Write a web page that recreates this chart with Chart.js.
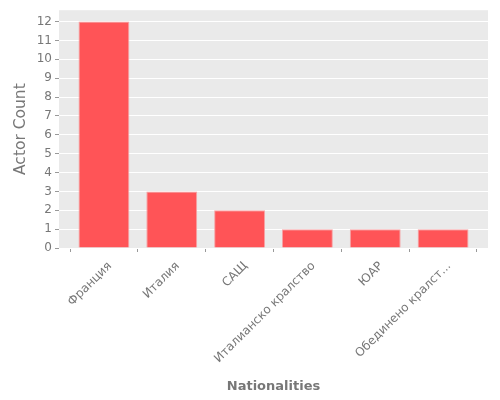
<!DOCTYPE html>
<html>
<head>
<meta charset="utf-8">
<script src="https://cdn.jsdelivr.net/npm/chart.js@4"></script>
<style>
  html, body { margin: 0; padding: 0; background: #fff; }
  #wrap { width: 500px; height: 400px; }
</style>
</head>
<body>
<div id="wrap"><canvas id="myChart"></canvas></div>
<script>
// data
const categories = [
    'Франция',
    'Италия',
    'САЩ',
    'Италианско кралство',
    'ЮАР',
    'Обединено кралст...'
];
const actorCounts = [12, 3, 2, 1, 1, 1];
const yTicks = [0, 1, 2, 3, 4, 5, 6, 7, 8, 9, 10, 11, 12];

const grey = '#777777';

// grey panel behind the plot, ggplot style
const panelBg = {
    id: 'panelBg',
    beforeDraw(chart) {
        const { ctx, chartArea: a } = chart;
        ctx.save();
        ctx.fillStyle = '#eaeaea';
        ctx.fillRect(a.left, a.top, a.right - a.left, a.bottom - a.top);
        ctx.restore();
    }
};

const config = {
    type: 'bar',
    data: {
        datasets: [{
            label: 'Actor Count',
            data: actorCounts.map((v, i) => ({ x: i, y: v })),
            backgroundColor: '#ff5457',
            borderColor: '#f7a3a5',
            borderWidth: 1,
            categoryPercentage: 1,
            barPercentage: 0.75
        }]
    },
    options: {
        responsive: true,
        maintainAspectRatio: false,
        animation: false,
        layout: { padding: { top: 10, right: 12, left: 12, bottom: 0 } },
        plugins: {
            legend: false,
            tooltip: { enabled: false }
        },
        scales: {
            x: {
                type: 'linear',
                offset: false,
                min: -0.6625,
                max: 5.6625,
                afterBuildTicks(scale) {
                    scale.ticks = categories.map((c, i) => ({ value: i }));
                },
                afterFit(scale) { scale.height = 152; },
                ticks: {
                    autoSkip: false,
                    minRotation: 45,
                    maxRotation: 45,
                    color: grey,
                    font: { family: 'DejaVu Sans', size: 12 },
                    padding: 7,
                    labelOffset: 6,
                    callback: (v) => categories[v]
                },
                grid: {
                    drawOnChartArea: false,
                    drawTicks: true,
                    tickLength: 4,
                    color: '#999999'
                },
                border: { display: false },
                title: {
                    display: true,
                    text: 'Nationalities',
                    color: grey,
                    font: { family: 'DejaVu Sans', size: 13, weight: 'bold' },
                    padding: { top: 4, bottom: 6 }
                }
            },
            y: {
                min: 0,
                max: 12.6,
                afterBuildTicks(scale) {
                    scale.ticks = yTicks.map(v => ({ value: v }));
                },
                afterFit(scale) { scale.width = 47; },
                ticks: {
                    color: grey,
                    font: { family: 'DejaVu Sans', size: 12 },
                    padding: 3
                },
                grid: {
                    color: '#ffffff',
                    lineWidth: 1,
                    tickColor: '#999999',
                    tickLength: 4
                },
                border: { display: false },
                title: {
                    display: true,
                    text: 'Actor Count',
                    color: grey,
                    font: { family: 'DejaVu Sans', size: 15.5, weight: 'normal' },
                    padding: { top: 0, bottom: 4 }
                }
            }
        }
    },
    plugins: [panelBg]
};

const myChart = new Chart(document.getElementById('myChart'), config);
</script>
</body>
</html>
